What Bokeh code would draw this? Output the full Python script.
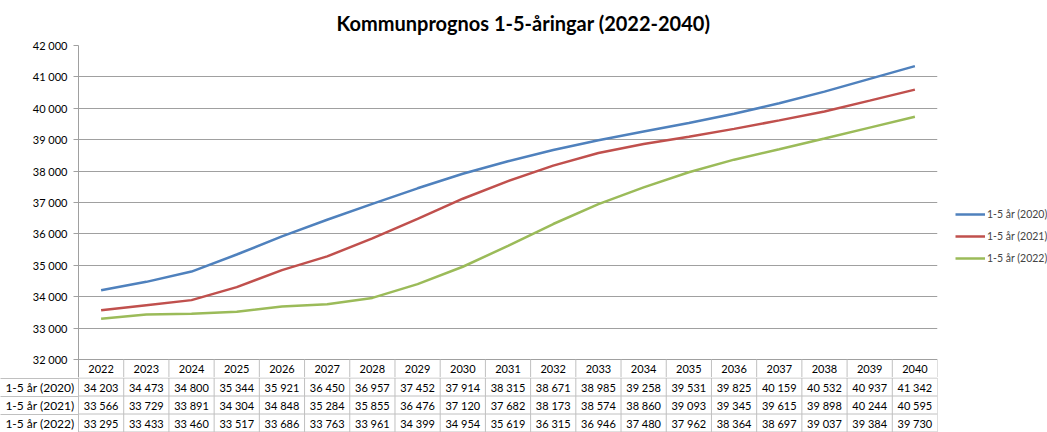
from bokeh.plotting import figure
from bokeh.layouts import column
from bokeh.models import Range1d, FixedTicker, Legend, LegendItem
from bokeh.embed import file_html
from bokeh.resources import INLINE
from bokeh.core.properties import value

# ---------------- data ----------------
years = ["2022", "2023", "2024", "2025", "2026", "2027", "2028", "2029", "2030", "2031",
         "2032", "2033", "2034", "2035", "2036", "2037", "2038", "2039", "2040"]
s2020 = [34203, 34473, 34800, 35344, 35921, 36450, 36957, 37452, 37914, 38315,
         38671, 38985, 39258, 39531, 39825, 40159, 40532, 40937, 41342]
s2021 = [33566, 33729, 33891, 34304, 34848, 35284, 35855, 36476, 37120, 37682,
         38173, 38574, 38860, 39093, 39345, 39615, 39898, 40244, 40595]
s2022 = [33295, 33433, 33460, 33517, 33686, 33763, 33961, 34399, 34954, 35619,
         36315, 36946, 37480, 37962, 38364, 38697, 39037, 39384, 39730]
series_names = ["1-5 år (2020)", "1-5 år (2021)", "1-5 år (2022)"]
series_values = [s2020, s2021, s2022]
y_ticks = [32000, 33000, 34000, 35000, 36000, 37000, 38000, 39000, 40000, 41000, 42000]
title_text = "Kommunprognos 1-5-åringar (2022-2040)"

# ---------------- style ----------------
colors = ["#4F81BD", "#C0504D", "#9BBB59"]
FONT = "Lato"
GRID = "#a0a0a0"
TBL = "#c0c0c0"
LEFT = 78
FRAME_W = 859
RIGHT = 110
TOP = 45
FRAME_H = 332
ROW_H = 18
PX_PER_1000 = 31.4
n = len(years)
y_per_px = 1000.0 / PX_PER_1000
y_min = y_ticks[0]
y_bottom = y_min - ROW_H * y_per_px


def fmt(v):
    return f"{v:,}".replace(",", " ")


xs = list(range(n))

# ---------------- chart ----------------
top = figure(frame_width=FRAME_W, frame_height=FRAME_H,
             min_border_left=LEFT, min_border_right=RIGHT, min_border_top=TOP, min_border_bottom=0,
             x_range=Range1d(-0.5, n - 0.5), y_range=Range1d(y_bottom, y_ticks[-1]),
             output_backend="svg", toolbar_location=None, title=title_text)
top.title.align = "left"
top.title.offset = 258
top.title.vertical_align = "top"
top.title.standoff = 18
top.title.text_font = FONT
top.title.text_font_size = "20px"
top.title.text_font_style = "bold"
top.title.text_color = "#000000"
top.outline_line_color = None
top.xaxis.visible = False
top.xgrid.visible = False
top.ygrid.ticker = FixedTicker(ticks=y_ticks)
top.ygrid.grid_line_color = GRID
top.ygrid.grid_line_width = 1
ax = top.yaxis[0]
ax.ticker = FixedTicker(ticks=y_ticks)
ax.major_label_overrides = {t: fmt(t) for t in y_ticks}
ax.major_label_text_font = FONT
ax.major_label_text_font_size = "11px"
ax.major_label_text_color = "#000000"
ax.axis_line_color = GRID
ax.major_tick_line_color = GRID
ax.major_tick_out = 5
ax.major_tick_in = 0
ax.minor_tick_line_color = None
ax.major_label_standoff = 6

items = []
for name, vals, c in zip(series_names, series_values, colors):
    r = top.line(xs, vals, line_color=c, line_width=2.5)
    items.append(LegendItem(label=name, renderers=[r]))

legend = Legend(items=items, location=(18, 109))
legend.border_line_color = None
legend.background_fill_alpha = 0
legend.label_text_font = FONT
legend.label_text_font_size = "10.5px"
legend.glyph_width = 30
legend.glyph_height = 20
legend.label_height = 20
legend.spacing = 2
legend.padding = 0
legend.margin = 0
legend.label_standoff = 2
top.add_layout(legend, "right")

# header row of the data table (years)
top.text(x=xs, y=[y_min - ROW_H / 2 * y_per_px] * n, text=years,
         text_font=value(FONT), text_font_size="11px", text_align="center",
         text_baseline="middle", text_color="#000000")
top.segment(x0=[i - 0.5 for i in range(n + 1)], y0=[y_bottom] * (n + 1),
            x1=[i - 0.5 for i in range(n + 1)], y1=[y_min] * (n + 1),
            line_color=TBL, line_width=1)

# ---------------- data table ----------------
pad = 0.5 / ROW_H
bot = figure(frame_width=FRAME_W, frame_height=3 * ROW_H + 1,
             min_border_left=LEFT, min_border_right=RIGHT, min_border_top=0, min_border_bottom=0,
             x_range=Range1d(-0.5, n - 0.5), y_range=Range1d(-pad, 3 + pad),
             output_backend="svg", toolbar_location=None)
bot.xaxis.visible = False
bot.grid.visible = False
bot.outline_line_color = None
bax = bot.yaxis[0]
bax.ticker = FixedTicker(ticks=[2.5, 1.5, 0.5], minor_ticks=[0, 1, 2, 3])
bax.major_label_overrides = {2.5: series_names[0], 1.5: series_names[1], 0.5: series_names[2]}
bax.major_label_text_font = FONT
bax.major_label_text_font_size = "12px"
bax.major_label_text_color = "#000000"
bax.major_label_standoff = -74
bax.major_tick_out = 0
bax.major_tick_in = 0
bax.minor_tick_out = LEFT
bax.minor_tick_in = 0
bax.minor_tick_line_color = TBL
bax.axis_line_color = TBL

# horizontal borders
bot.segment(x0=[-0.5] * 4, y0=[0, 1, 2, 3], x1=[n - 0.5] * 4, y1=[0, 1, 2, 3],
            line_color=TBL, line_width=1)
# vertical borders
vx = [i - 0.5 for i in range(n + 1)]
bot.segment(x0=vx, y0=[0] * len(vx), x1=vx, y1=[3] * len(vx), line_color=TBL, line_width=1)

for row, vals in enumerate(series_values):
    yc = 2.5 - row
    bot.text(x=xs, y=[yc] * n, text=[fmt(v) for v in vals], text_font=value(FONT),
             text_font_size="11px", text_align="center", text_baseline="middle",
             text_color="#000000")

layout = column(top, bot, spacing=0)
open("out.html", "w").write(file_html(layout, INLINE))
